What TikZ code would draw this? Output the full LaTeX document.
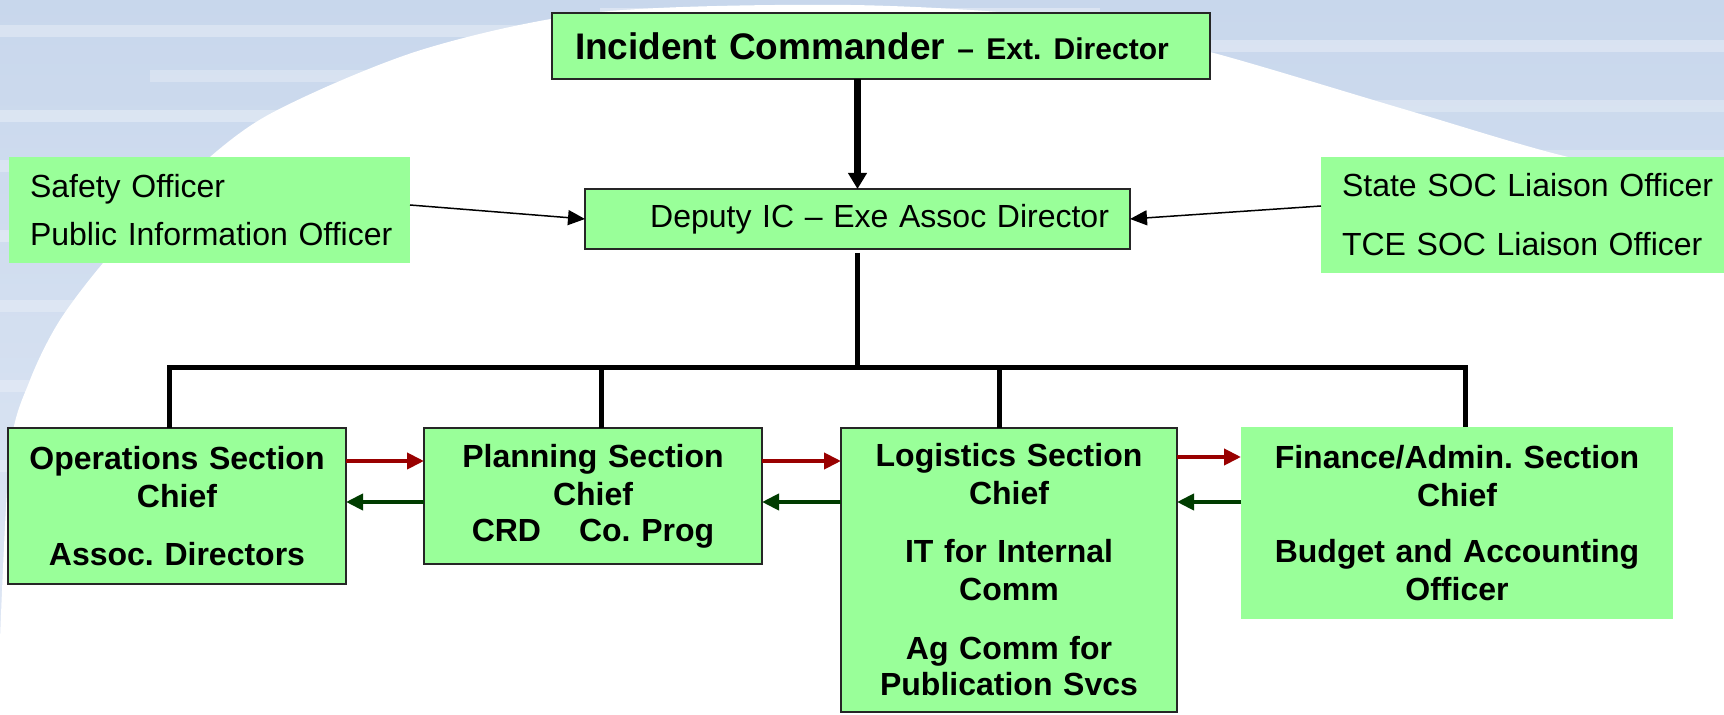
\documentclass[tikz,border=0pt]{standalone}
\usepackage{fontspec}
\setmainfont{Liberation Sans}
\usetikzlibrary{arrows.meta,calc}
\definecolor{boxgreen}{RGB}{153,255,153}
\definecolor{arrred}{RGB}{153,0,0}
\definecolor{arrgreen}{RGB}{0,60,0}
\definecolor{bgtop}{RGB}{200,215,236}
\definecolor{bgbot}{RGB}{224,232,245}
\begin{document}
\frenchspacing
\begin{tikzpicture}[x=0.5pt,y=-0.5pt,
  greenbox/.style={fill=boxgreen, inner ysep=0pt, outer sep=0pt},
  framed/.style={draw=black!85, line width=0.75pt},
  sect/.style={greenbox, align=center, inner xsep=0pt,
    font=\fontsize{16pt}{19pt}\selectfont\bfseries},
  plain/.style={greenbox, align=left, inner xsep=0pt},
  thinarr/.style={draw=black, line width=0.75pt, -{Triangle[length=8.5pt,width=7.5pt]}},
  icarr/.style={draw=black, line width=3.5pt, -{Triangle[length=8pt,width=9pt]}},
  redarr/.style={draw=arrred, line width=2pt, -{Triangle[length=8.5pt,width=8pt]}},
  grnarr/.style={draw=arrgreen, line width=2pt, -{Triangle[length=8.5pt,width=8pt]}},
  tree/.style={draw=black, line width=2.5pt, line join=miter}
]
\useasboundingbox (0,0) rectangle (1724,715);
% background
\shade[top color=bgtop, bottom color=bgbot] (0,0) rectangle (1724,715);
\foreach \xa/\xb/\yy/\op in {0/700/25/0.3, 150/900/70/0.25, 0/500/110/0.3, 900/1724/40/0.3,
   1200/1724/100/0.25, 0/400/160/0.25, 0/300/230/0.3, 0/200/300/0.25, 0/120/380/0.25,
   0/60/460/0.25, 600/1100/8/0.35, 1300/1724/150/0.2}
  \fill[white, opacity=\op] (\xa,\yy) rectangle (\xb,\yy+12);
\fill[white] (0,715) -- plot[smooth] coordinates {(0,640) (10,450) (30,380) (60,320) (110,255) (184,180) (268,115) (421,50) (600,12) (850,5) (1060,18) (1210,52) (1400,108) (1560,155) (1724,190)} -- (1724,715) -- cycle;

% nodes
\node[greenbox, framed, align=left, text width=306pt, inner xsep=11.5pt, minimum height=33pt,
  font=\fontsize{18.5pt}{22pt}\selectfont\bfseries] (ic) at (881,46)
  {Incident Commander {\fontsize{15pt}{18pt}\selectfont – Ext. Director}};
\node[greenbox, framed, align=right, text width=251.5pt, inner xsep=10.5pt, minimum height=30pt,
  font=\fontsize{16pt}{19pt}\selectfont] (dep) at (857.5,219) {Deputy IC – Exe Assoc Director};
\node[plain, text width=200.5pt, minimum height=53pt,
  font=\fontsize{16pt}{24pt}\selectfont] (saf) at (209.5,210)
  {\hspace*{10.5pt}Safety Officer\\\hspace*{10.5pt}Public Information Officer};
\node[plain, text width=204.5pt, minimum height=58pt,
  font=\fontsize{16pt}{29.5pt}\selectfont] (sta) at (1525.5,215)
  {\hspace*{10.5pt}State SOC Liaison Officer\\\hspace*{10.5pt}TCE SOC Liaison Officer};

\node[sect, framed, text width=169pt, minimum height=78pt] (ops) at (177,506)
  {Operations Section\\Chief\\[10pt]Assoc. Directors};
\node[sect, framed, text width=169pt, minimum height=68pt] (pla) at (593,496)
  {Planning Section\\Chief\\[-1pt]CRD\hspace{19pt}Co. Prog};
\node[sect, framed, text width=168pt, minimum height=142pt] (log) at (1009,570)
  {Logistics Section\\Chief\\[10pt]IT for Internal\\Comm\\[10.5pt]Ag Comm for\\[-1pt]Publication Svcs};
\node[sect, text width=216pt, minimum height=96pt] (fin) at (1457,523)
  {Finance/Admin. Section\\Chief\\[9pt]Budget and Accounting\\Officer};

% connectors
\draw[icarr] (ic.south -| dep.north) -- (dep.north);
\draw[thinarr] ([yshift=2.5pt]saf.east) -- (dep.west);
\draw[thinarr] ([yshift=4.5pt]sta.west) -- (dep.east);

\coordinate (j1) at (169,368);
\coordinate (j2) at (601,368);
\coordinate (j3) at (857.5,368);
\coordinate (j4) at (999,368);
\coordinate (j5) at (1465,368);
\draw[tree] (ops.north -| j1) -- (j1) -- (j5) -- (fin.north -| j5);
\draw[tree] (pla.north -| j2) -- (j2);
\draw[tree] ([yshift=-2pt]dep.south) -- (j3);
\draw[tree] (log.north -| j4) -- (j4);

\coordinate (ra) at (0,461);
\coordinate (rb) at (0,457);
\coordinate (ga) at (0,502);
\draw[redarr] (ops.east |- ra) -- (pla.west |- ra);
\draw[grnarr] (pla.west |- ga) -- (ops.east |- ga);
\draw[redarr] (pla.east |- ra) -- (log.west |- ra);
\draw[grnarr] (log.west |- ga) -- (pla.east |- ga);
\draw[redarr] (log.east |- rb) -- (fin.west |- rb);
\draw[grnarr] (fin.west |- ga) -- (log.east |- ga);
\end{tikzpicture}
\end{document}
